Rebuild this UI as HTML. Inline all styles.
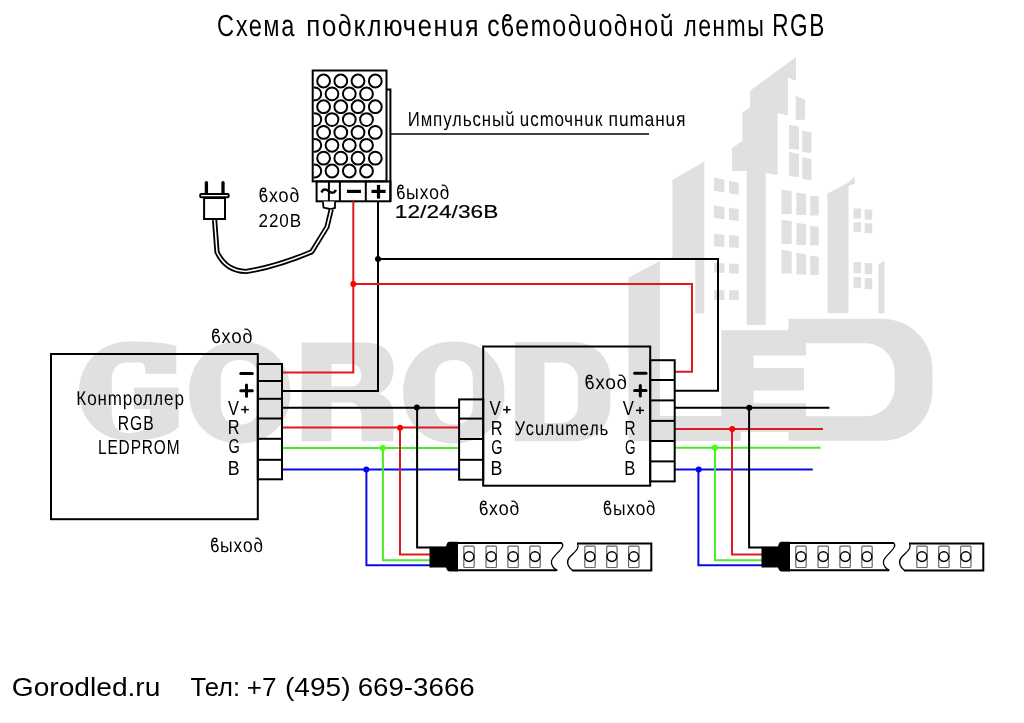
<!DOCTYPE html>
<html><head><meta charset="utf-8"><style>
html,body{margin:0;padding:0;background:#fff;}
body{width:1024px;height:723px;overflow:hidden;font-family:"Liberation Sans",sans-serif;}
svg{display:block;will-change:transform;}
</style></head><body><svg width="1024" height="723" viewBox="0 0 1024 723"><g fill="#e0e0e0"><path d="M176.3,373.8 V346 C166,342.5 150,341.4 128.5,341.4 C100,341.4 79,364 79,391.5 C79,419 100,440.5 128.5,440.5 C152,440.5 170,436 178.6,427 V387.5 H133.9 V409 H150 V424 C145,431 137,433 128,433 C117,433 111.8,425 111.8,412 V380 C111.8,369 117,362.4 127,362.4 H140 C143.5,362.4 145.6,366 145.6,373.8 Z"/><path fill-rule="evenodd" d="M239.75,341.6 C272.75,341.6 290.4,365 290.4,392.5 C290.4,420 272.75,443.4 239.75,443.4 C206.75,443.4 189.1,420 189.1,392.5 C189.1,365 206.75,341.6 239.75,341.6 Z M239.75,360 C228.75,360 220.75,366 220.75,379 V405.5 C220.75,418 228.75,424.5 239.75,424.5 C250.75,424.5 258.75,418 258.75,405.5 V379 C258.75,366 250.75,360 239.75,360 Z"/><path fill-rule="evenodd" d="M453.85,341.6 C486.85,341.6 504.5,365 504.5,392.5 C504.5,420 486.85,443.4 453.85,443.4 C420.85,443.4 403.20000000000005,420 403.20000000000005,392.5 C403.20000000000005,365 420.85,341.6 453.85,341.6 Z M453.85,360 C442.85,360 434.85,366 434.85,379 V405.5 C434.85,418 442.85,424.5 453.85,424.5 C464.85,424.5 472.85,418 472.85,405.5 V379 C472.85,366 464.85,360 453.85,360 Z"/><path fill-rule="evenodd" d="M301.6,342.4 H364 C383,342.4 393.5,352 393.5,368 C393.5,381 388.5,389 379,393.5 C388,397.5 393.5,404 393.5,414 V441.2 H361.5 V417 C361.5,408 357,402.5 349,402.5 H331.5 V441.2 H301.6 Z M331.5,364 H351 C357.5,364 361.3,368.5 361.3,375.2 C361.3,382 357.5,386.5 351,386.5 H331.5 Z"/><path fill-rule="evenodd" d="M514.9,342 H574.5 A36,36 0 0 1 610.4,378 V405.2 A36,36 0 0 1 574.5,441.2 H514.9 Z M544.5,362.4 H561 A17,17 0 0 1 578,379.4 V406 A17,17 0 0 1 561,423 H544.5 Z"/><polygon points="628.5,277.5 660,261 660,416 740.7,416 740.7,441 628.5,441"/><polygon points="672.4,180 704.3,161.6 704.3,313.5 695.2,313.5 695.2,259 672.4,259"/><polygon points="714,177.4 724.4,179.64000000000001 724.4,192.42 714,190.7"/><polygon points="729,180.76 738.8,183 738.8,195 729,193.28"/><polygon points="714,205.6 724.4,206.96 724.4,219.2 714,218"/><polygon points="729,207.64 738.8,209 738.8,221 729,219.8"/><polygon points="714,233.8 724.4,234.68 724.4,246.98000000000002 714,246.3"/><polygon points="729,235.12 738.8,236 738.8,248 729,247.32"/><polygon points="714,262.9 724.4,263.34 724.4,272.98 714,272.5"/><polygon points="729,263.56 738.8,264 738.8,273.7 729,273.21999999999997"/><polygon points="714,290.2 724.4,290.2 724.4,300.0 714,300"/><polygon points="729,290.2 738.8,290.2 738.8,300 729,300.0"/><polygon points="796,57 796,80.8 788,77.8 788,115.6 777.6,113 777.6,175 765.7,173 765.7,325 746.7,325 746.7,171 732,171 732,148 742.4,141 742.4,112.7 750,107.3 750,90.7"/><polygon points="795.7,95.7 805.1,99.8 805.1,119.7 795.7,119.7"/><polygon points="789,124.7 799,126.7 799,149.7 789,148.7"/><polygon points="802.3,130.5 811.4,132.5 811.4,152.9 802.3,151.9"/><polygon points="789,152 799,154 799,177 789,176"/><polygon points="802.3,157 811.4,159 811.4,180.2 802.3,179.2"/><polygon points="781.5,189.5 791.7,191.0 791.7,214 781.5,214"/><polygon points="796.4,192.5 806,194.0 806,215 796.4,215"/><polygon points="810.2,195.5 818.8,196.5 818.8,215.5 810.2,215.5"/><polygon points="781.5,219.7 791.7,221.2 791.7,244 781.5,244"/><polygon points="796.4,222.7 806,224.2 806,245 796.4,245"/><polygon points="810.2,225.7 818.8,226.7 818.8,245.5 810.2,245.5"/><polygon points="781.5,249.8 791.7,251.3 791.7,273.5 781.5,273.5"/><polygon points="796.4,252.8 806,254.3 806,274.5 796.4,274.5"/><polygon points="810.2,255.8 818.8,256.8 818.8,275.0 810.2,275.0"/><polygon points="827.4,193.6 848.5,182.4 854.8,176.2 854.8,183.6 848.5,186 848.5,313.2 827.4,313.2"/><rect x="853.5" y="208.5" width="7.5" height="10.0"/><rect x="864.7" y="209.5" width="7.5" height="10.0"/><rect x="853.5" y="222.2" width="7.5" height="10.0"/><rect x="864.7" y="223.2" width="7.5" height="10.0"/><rect x="853.5" y="262" width="7.5" height="11.300000000000011"/><rect x="864.7" y="263" width="7.5" height="11.300000000000011"/><rect x="853.5" y="277" width="7.5" height="11.199999999999989"/><rect x="864.7" y="278" width="7.5" height="11.199999999999989"/><polygon points="878.4,264.6 884.6,260.8 884.6,313.2 878.4,313.2"/><path d="M721.3,330.3 H805.9 V355.5 H753.6 V368.1 H804 V390.4 H753.6 V403.3 H806 V432 H721.3 Z"/><path fill-rule="evenodd" d="M788.4,318.7 H882 A50.4,50 0 0 1 932.4,368.7 V390.8 A50.4,50 0 0 1 882,440.8 H788.4 Z M788.4,343.3 V416.2 H865.5 A29,29 0 0 0 894.6,387.2 V372.3 A29,29 0 0 0 865.5,343.3 Z"/></g><clipPath id="psclip"><rect x="313.7" y="71.5" width="71.8" height="109"/></clipPath><g clip-path="url(#psclip)" fill="none" stroke="#000" stroke-width="2"><circle cx="323.6" cy="81.00" r="6.4"/><circle cx="340.8" cy="81.00" r="6.4"/><circle cx="358.0" cy="81.00" r="6.4"/><circle cx="375.3" cy="81.00" r="6.4"/><circle cx="314.8" cy="93.86" r="6.4"/><circle cx="332.0" cy="93.86" r="6.4"/><circle cx="349.3" cy="93.86" r="6.4"/><circle cx="366.5" cy="93.86" r="6.4"/><circle cx="323.6" cy="106.72" r="6.4"/><circle cx="340.8" cy="106.72" r="6.4"/><circle cx="358.0" cy="106.72" r="6.4"/><circle cx="375.3" cy="106.72" r="6.4"/><circle cx="314.8" cy="119.58" r="6.4"/><circle cx="332.0" cy="119.58" r="6.4"/><circle cx="349.3" cy="119.58" r="6.4"/><circle cx="366.5" cy="119.58" r="6.4"/><circle cx="323.6" cy="132.44" r="6.4"/><circle cx="340.8" cy="132.44" r="6.4"/><circle cx="358.0" cy="132.44" r="6.4"/><circle cx="375.3" cy="132.44" r="6.4"/><circle cx="314.8" cy="145.30" r="6.4"/><circle cx="332.0" cy="145.30" r="6.4"/><circle cx="349.3" cy="145.30" r="6.4"/><circle cx="366.5" cy="145.30" r="6.4"/><circle cx="323.6" cy="158.16" r="6.4"/><circle cx="340.8" cy="158.16" r="6.4"/><circle cx="358.0" cy="158.16" r="6.4"/><circle cx="375.3" cy="158.16" r="6.4"/><circle cx="314.8" cy="171.02" r="6.4"/><circle cx="332.0" cy="171.02" r="6.4"/><circle cx="349.3" cy="171.02" r="6.4"/><circle cx="366.5" cy="171.02" r="6.4"/></g><g fill="none" stroke="#000" stroke-width="2"><rect x="312.7" y="70.5" width="73.8" height="110.9"/><polyline points="386.5,89.5 390.4,89.5 390.4,201.3"/><rect x="316.6" y="181.4" width="73.8" height="19.9"/><line x1="339.9" y1="181.4" x2="339.9" y2="201.3"/><line x1="365.8" y1="181.4" x2="365.8" y2="201.3"/><line x1="328.9" y1="181.4" x2="328.9" y2="201.3"/></g><path d="M321.5,192.5 C323,188.5 326,189 328.9,191.2 C331.5,193.3 334.5,193.5 335.8,189.8" fill="none" stroke="#000" stroke-width="2.4"/><g stroke="#000" stroke-width="3.2" fill="none"><line x1="346.9" y1="191.4" x2="361" y2="191.4"/><line x1="371.5" y1="191.4" x2="385.6" y2="191.4"/><line x1="378.5" y1="184.9" x2="378.5" y2="198.6"/></g><path d="M322.9,201.5 L323.5,207.6 L331,209.2 L335,207.8 L335,201.5" fill="#fff" stroke="#000" stroke-width="1.8"/><path d="M331.2,209.5 L327,227 L311.7,251.8 C290,261 268,268 246,271.5 C230,271 222,263 217,252 L214.6,220" fill="none" stroke="#000" stroke-width="5.2" stroke-linejoin="round"/><path d="M331.2,209.5 L327,227 L311.7,251.8 C290,261 268,268 246,271.5 C230,271 222,263 217,252 L214.6,220" fill="none" stroke="#fff" stroke-width="1.6" stroke-linejoin="round"/><g fill="none" stroke="#000"><line x1="206.4" y1="182.6" x2="206.4" y2="194" stroke-width="3.3" stroke-linecap="round"/><line x1="223" y1="182.6" x2="223" y2="194" stroke-width="3.3" stroke-linecap="round"/><rect x="200.2" y="194.1" width="28.5" height="3.1" rx="1" stroke-width="2" fill="#fff"/><rect x="204.1" y="198" width="20.9" height="21" stroke-width="2" fill="#fff"/></g><polyline points="378,201.3 378,391 282,391" fill="none" stroke="#000" stroke-width="2"/><polyline points="378,259 718,259 718,390.8 675,390.8" fill="none" stroke="#000" stroke-width="2"/><polyline points="353.3,201.3 353.3,372.5 282,372.5" fill="none" stroke="#dc1a22" stroke-width="2"/><polyline points="353.3,284 692,284 692,371.7 675,371.7" fill="none" stroke="#dc1a22" stroke-width="2"/><polyline points="282,407.7 459,407.7" fill="none" stroke="#000" stroke-width="2"/><polyline points="282,427.6 459,427.6" fill="none" stroke="#dc1a22" stroke-width="2"/><polyline points="282,448 459,448" fill="none" stroke="#4ae828" stroke-width="2"/><polyline points="282,469.4 459,469.4" fill="none" stroke="#0c0ce0" stroke-width="2"/><polyline points="675,407.8 829.4,407.8" fill="none" stroke="#000" stroke-width="2"/><polyline points="675,429 823,429" fill="none" stroke="#dc1a22" stroke-width="2"/><polyline points="675,447.8 820.6,447.8" fill="none" stroke="#4ae828" stroke-width="2"/><polyline points="675,469.5 812.8,469.5" fill="none" stroke="#0c0ce0" stroke-width="2"/><polyline points="366.4,469.4 366.4,565.2 430,565.2" fill="none" stroke="#0c0ce0" stroke-width="2"/><polyline points="382.9,448 382.9,560.2 430,560.2" fill="none" stroke="#4ae828" stroke-width="2"/><polyline points="400,427.6 400,554.6 430,554.6" fill="none" stroke="#dc1a22" stroke-width="2"/><polyline points="417.1,407.7 417.1,547.6 430,547.6" fill="none" stroke="#000" stroke-width="2"/><polyline points="698.4,469.4 698.4,565.2 762,565.2" fill="none" stroke="#0c0ce0" stroke-width="2"/><polyline points="714.9,448 714.9,560.2 762,560.2" fill="none" stroke="#4ae828" stroke-width="2"/><polyline points="732,427.6 732,554.6 762,554.6" fill="none" stroke="#dc1a22" stroke-width="2"/><polyline points="749.1,407.7 749.1,547.6 762,547.6" fill="none" stroke="#000" stroke-width="2"/><circle cx="378" cy="259" r="3" fill="#000"/><circle cx="353.3" cy="284" r="3" fill="#ff0000"/><circle cx="416.9" cy="407.6" r="3" fill="#000"/><circle cx="400" cy="427.7" r="3" fill="#ff0000"/><circle cx="382.7" cy="448" r="3" fill="#44ff0a"/><circle cx="366.3" cy="469.4" r="3" fill="#0000ff"/><circle cx="749.3" cy="407.8" r="3" fill="#000"/><circle cx="732.2" cy="429" r="3" fill="#ff0000"/><circle cx="714.9" cy="447.8" r="3" fill="#44ff0a"/><circle cx="698.7" cy="469.5" r="3" fill="#0000ff"/><g fill="none" stroke="#000" stroke-width="2"><rect x="51" y="354" width="206.8" height="165.2"/><rect x="257.8" y="364" width="24.2" height="115.3"/><line x1="257.8" y1="381" x2="282" y2="381"/><line x1="257.8" y1="398.8" x2="282" y2="398.8"/><line x1="257.8" y1="418.5" x2="282" y2="418.5"/><line x1="257.8" y1="438.8" x2="282" y2="438.8"/><line x1="257.8" y1="459.8" x2="282" y2="459.8"/></g><g fill="none" stroke="#000" stroke-width="2"><rect x="483.2" y="346.5" width="167" height="139.2"/><rect x="459.1" y="399.4" width="24.1" height="80.3"/><line x1="459.1" y1="418.6" x2="483.2" y2="418.6"/><line x1="459.1" y1="439" x2="483.2" y2="439"/><line x1="459.1" y1="459.8" x2="483.2" y2="459.8"/><rect x="650.2" y="360.2" width="24.5" height="121.2"/><line x1="650.2" y1="380" x2="674.7" y2="380"/><line x1="650.2" y1="400.4" x2="674.7" y2="400.4"/><line x1="650.2" y1="420.9" x2="674.7" y2="420.9"/><line x1="650.2" y1="441" x2="674.7" y2="441"/><line x1="650.2" y1="461.4" x2="674.7" y2="461.4"/></g><g stroke="#000" stroke-width="3" stroke-linecap="round" fill="none"><line x1="240.8" y1="373.4" x2="252.29999999999998" y2="373.4"/><line x1="240.8" y1="390.8" x2="252.29999999999998" y2="390.8"/><line x1="246.5" y1="385.09999999999997" x2="246.5" y2="396.3"/></g><g stroke="#000" stroke-width="3" stroke-linecap="round" fill="none"><line x1="634.6" y1="373.2" x2="646.0" y2="373.2"/><line x1="634.6" y1="390.4" x2="646.0" y2="390.4"/><line x1="640.3" y1="385.4" x2="640.3" y2="396.1"/></g><g stroke="#000" stroke-width="1.5"><line x1="241.2" y1="409.6" x2="248.8" y2="409.6"/><line x1="245" y1="406.0" x2="245" y2="413.20000000000005"/></g><g stroke="#000" stroke-width="1.5"><line x1="503.1" y1="409.7" x2="510.6" y2="409.7"/><line x1="506.9" y1="406.09999999999997" x2="506.9" y2="413.3"/></g><g stroke="#000" stroke-width="1.5"><line x1="636" y1="410.4" x2="644" y2="410.4"/><line x1="640" y1="406.79999999999995" x2="640" y2="414.0"/></g><rect x="429.5" y="546.4" width="18" height="21.1" fill="#000"/><path d="M446,546.4 C447,543 447.5,541.7 450,541.7 H458 V571.4 H450 C447.5,571.4 447,570 446,567.5 Z" fill="#000"/><path d="M457,543 H562 M557,570.3 H457" fill="none" stroke="#000" stroke-width="2"/><path d="M561.5,543 C567,547 553,555 551.5,561 C550.5,566 555,569.5 557.5,570.3" fill="none" stroke="#000" stroke-width="1.3"/><path d="M577,543.5 H651.3 V570.5 H572" fill="none" stroke="#000" stroke-width="2"/><path d="M572.5,570.5 C568,567 566,562 569,558 C573,553 580.5,549 577.5,543.5" fill="none" stroke="#000" stroke-width="1.3"/><rect x="463.8" y="546.1" width="10.4" height="21.4" rx="1" fill="none" stroke="#666" stroke-width="1.2"/><circle cx="469.0" cy="556.6" r="4.8" fill="none" stroke="#000" stroke-width="1.5"/><rect x="486.0" y="546.1" width="10.4" height="21.4" rx="1" fill="none" stroke="#666" stroke-width="1.2"/><circle cx="491.2" cy="556.6" r="4.8" fill="none" stroke="#000" stroke-width="1.5"/><rect x="507.9" y="546.1" width="10.4" height="21.4" rx="1" fill="none" stroke="#666" stroke-width="1.2"/><circle cx="513.1" cy="556.6" r="4.8" fill="none" stroke="#000" stroke-width="1.5"/><rect x="529.8" y="546.1" width="10.4" height="21.4" rx="1" fill="none" stroke="#666" stroke-width="1.2"/><circle cx="535.0" cy="556.6" r="4.8" fill="none" stroke="#000" stroke-width="1.5"/><rect x="584.8" y="546.1" width="10.4" height="21.4" rx="1" fill="none" stroke="#666" stroke-width="1.2"/><circle cx="590.0" cy="556.6" r="4.8" fill="none" stroke="#000" stroke-width="1.5"/><rect x="606.7" y="546.1" width="10.4" height="21.4" rx="1" fill="none" stroke="#666" stroke-width="1.2"/><circle cx="611.9000000000001" cy="556.6" r="4.8" fill="none" stroke="#000" stroke-width="1.5"/><rect x="628.6" y="546.1" width="10.4" height="21.4" rx="1" fill="none" stroke="#666" stroke-width="1.2"/><circle cx="633.8000000000001" cy="556.6" r="4.8" fill="none" stroke="#000" stroke-width="1.5"/><rect x="761.5" y="546.4" width="18" height="21.1" fill="#000"/><path d="M778,546.4 C779,543 779.5,541.7 782,541.7 H790 V571.4 H782 C779.5,571.4 779,570 778,567.5 Z" fill="#000"/><path d="M789,543 H894 M889,570.3 H789" fill="none" stroke="#000" stroke-width="2"/><path d="M893.5,543 C899,547 885,555 883.5,561 C882.5,566 887,569.5 889.5,570.3" fill="none" stroke="#000" stroke-width="1.3"/><path d="M909,543.5 H983.3 V570.5 H904" fill="none" stroke="#000" stroke-width="2"/><path d="M904.5,570.5 C900,567 898,562 901,558 C905,553 912.5,549 909.5,543.5" fill="none" stroke="#000" stroke-width="1.3"/><rect x="795.8" y="546.1" width="10.4" height="21.4" rx="1" fill="none" stroke="#666" stroke-width="1.2"/><circle cx="801.0" cy="556.6" r="4.8" fill="none" stroke="#000" stroke-width="1.5"/><rect x="818.0" y="546.1" width="10.4" height="21.4" rx="1" fill="none" stroke="#666" stroke-width="1.2"/><circle cx="823.2" cy="556.6" r="4.8" fill="none" stroke="#000" stroke-width="1.5"/><rect x="839.9" y="546.1" width="10.4" height="21.4" rx="1" fill="none" stroke="#666" stroke-width="1.2"/><circle cx="845.1" cy="556.6" r="4.8" fill="none" stroke="#000" stroke-width="1.5"/><rect x="861.8" y="546.1" width="10.4" height="21.4" rx="1" fill="none" stroke="#666" stroke-width="1.2"/><circle cx="867.0" cy="556.6" r="4.8" fill="none" stroke="#000" stroke-width="1.5"/><rect x="916.8" y="546.1" width="10.4" height="21.4" rx="1" fill="none" stroke="#666" stroke-width="1.2"/><circle cx="922.0" cy="556.6" r="4.8" fill="none" stroke="#000" stroke-width="1.5"/><rect x="938.7" y="546.1" width="10.4" height="21.4" rx="1" fill="none" stroke="#666" stroke-width="1.2"/><circle cx="943.9000000000001" cy="556.6" r="4.8" fill="none" stroke="#000" stroke-width="1.5"/><rect x="960.6" y="546.1" width="10.4" height="21.4" rx="1" fill="none" stroke="#666" stroke-width="1.2"/><circle cx="965.8000000000001" cy="556.6" r="4.8" fill="none" stroke="#000" stroke-width="1.5"/><g fill="#000" font-family="Liberation Sans"><text transform="translate(218.57,35.8) scale(0.7664,1) skewX(12)" x="0" y="0" font-style="italic" font-size="30.5" textLength="100.46" lengthAdjust="spacing">Схема</text><text transform="translate(307.74,35.8) scale(0.8315,1) skewX(12)" x="0" y="0" font-style="italic" font-size="30.5" textLength="207.17" lengthAdjust="spacing">подключения</text><text transform="translate(488.71,35.8) scale(0.8093,1) skewX(12)" x="0" y="0" font-style="italic" font-size="30.5" textLength="230.08" lengthAdjust="spacing">сϐетодиодной</text><text transform="translate(685.2,35.8) scale(0.7456,1) skewX(12)" x="0" y="0" font-style="italic" font-size="30.5" textLength="107.38" lengthAdjust="spacing">ленты</text><text transform="translate(772.14,35.8) scale(0.7403,1)" x="0" y="0" font-size="30.5" textLength="70.42" lengthAdjust="spacing">RGB</text><text transform="translate(408.73,126) scale(0.8180,1) skewX(12)" x="0" y="0" font-style="italic" font-size="20.5" textLength="130.51" lengthAdjust="spacing">Импульсный</text><text transform="translate(520.81,126) scale(0.8221,1) skewX(12)" x="0" y="0" font-style="italic" font-size="20.5" textLength="100.76" lengthAdjust="spacing">источник</text><text transform="translate(609.44,126) scale(0.8438,1) skewX(12)" x="0" y="0" font-style="italic" font-size="20.5" textLength="91.19" lengthAdjust="spacing">питания</text><text transform="translate(259.94,202) scale(0.8937,1) skewX(12)" x="0" y="0" font-style="italic" font-size="20" textLength="45.30" lengthAdjust="spacing">ϐход</text><text transform="translate(258.56,226.6) scale(0.8974,1)" x="0" y="0" font-size="19" textLength="47.38" lengthAdjust="spacing">220В</text><text transform="translate(397.38,199.4) scale(0.8659,1) skewX(12)" x="0" y="0" font-style="italic" font-size="20" textLength="61.15" lengthAdjust="spacing">ϐыход</text><text x="394.86" y="218.1" font-size="19" textLength="103.43" lengthAdjust="spacingAndGlyphs" stroke="#000" stroke-width="0.2">12/24/36В</text><text transform="translate(212.46,342.5) scale(0.9095,1) skewX(12)" x="0" y="0" font-style="italic" font-size="20" textLength="45.24" lengthAdjust="spacing">ϐход</text><text transform="translate(211.38,551.6) scale(0.8589,1) skewX(12)" x="0" y="0" font-style="italic" font-size="20" textLength="61.18" lengthAdjust="spacing">ϐыход</text><text transform="translate(77.22,404.9) scale(0.8461,1) skewX(12)" x="0" y="0" font-style="italic" font-size="20" textLength="127.20" lengthAdjust="spacing">Контроллер</text><text transform="translate(117.86,429.5) scale(0.8041,1)" x="0" y="0" font-size="19.5" textLength="44.49" lengthAdjust="spacing">RGB</text><text transform="translate(97.93,454.2) scale(0.7913,1)" x="0" y="0" font-size="19.5" textLength="103.26" lengthAdjust="spacing">LEDPROM</text><text x="227.88" y="414.7" font-size="20" textLength="10.94" lengthAdjust="spacingAndGlyphs">V</text><text x="227.66" y="434.4" font-size="19.5" textLength="11.8" lengthAdjust="spacingAndGlyphs">R</text><text x="228.41" y="453.4" font-size="19.5" textLength="11.25" lengthAdjust="spacingAndGlyphs">G</text><text x="227.7" y="475.3" font-size="19.5" textLength="11.89" lengthAdjust="spacingAndGlyphs">B</text><text x="489.46" y="414.7" font-size="20" textLength="11.21" lengthAdjust="spacingAndGlyphs">V</text><text x="490.68" y="434.6" font-size="19.5" textLength="11.79" lengthAdjust="spacingAndGlyphs">R</text><text x="491.18" y="453.7" font-size="19.5" textLength="11.25" lengthAdjust="spacingAndGlyphs">G</text><text x="490.47" y="475.3" font-size="19.5" textLength="11.9" lengthAdjust="spacingAndGlyphs">B</text><text x="622.86" y="414.5" font-size="20" textLength="11.11" lengthAdjust="spacingAndGlyphs">V</text><text x="624.55" y="434.6" font-size="19.5" textLength="11.02" lengthAdjust="spacingAndGlyphs">R</text><text x="625.07" y="453.6" font-size="19.5" textLength="10.54" lengthAdjust="spacingAndGlyphs">G</text><text x="624.33" y="475" font-size="19.5" textLength="11.15" lengthAdjust="spacingAndGlyphs">B</text><text transform="translate(515.64,435.2) scale(0.8156,1) skewX(12)" x="0" y="0" font-style="italic" font-size="20" textLength="114.72" lengthAdjust="spacing">Усилитель</text><text transform="translate(586.03,389.3) scale(0.9301,1) skewX(12)" x="0" y="0" font-style="italic" font-size="20" textLength="45.18" lengthAdjust="spacing">ϐход</text><text transform="translate(480.2,515) scale(0.8870,1) skewX(12)" x="0" y="0" font-style="italic" font-size="20" textLength="45.32" lengthAdjust="spacing">ϐход</text><text transform="translate(604.36,515) scale(0.8515,1) skewX(12)" x="0" y="0" font-style="italic" font-size="20" textLength="61.22" lengthAdjust="spacing">ϐыход</text><text x="11.84" y="695.9" font-size="25" textLength="148.57" lengthAdjust="spacingAndGlyphs">Gorodled.ru</text><text x="190.46" y="695.8" font-size="25" textLength="49.58" lengthAdjust="spacingAndGlyphs">Тел:</text><text x="246.67" y="695.8" font-size="25" textLength="29.75" lengthAdjust="spacingAndGlyphs">+7</text><text x="285.0" y="695.8" font-size="25" textLength="65.49" lengthAdjust="spacingAndGlyphs">(495)</text><text x="357.66" y="695.8" font-size="25" textLength="117.05" lengthAdjust="spacingAndGlyphs">669-3666</text><line x1="391" y1="134" x2="649" y2="134" stroke="#000" stroke-width="1.6"/></g></svg></body></html>
